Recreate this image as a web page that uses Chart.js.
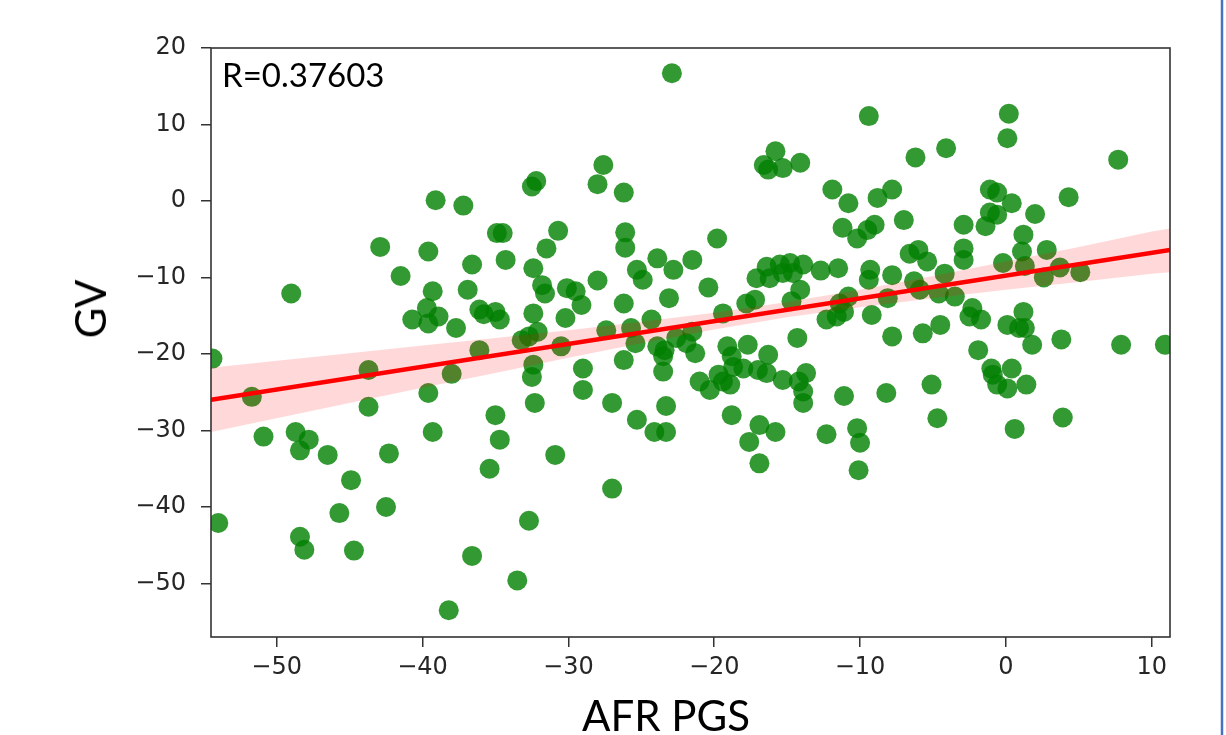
<!DOCTYPE html>
<html>
<head>
<meta charset="utf-8">
<script src="https://cdn.jsdelivr.net/npm/chart.js@4"></script>
<style>
  html, body { margin: 0; padding: 0; background: #fff; }
  #wrap { position: relative; width: 1226px; height: 735px; overflow: hidden; }
  #chart_ctx { position: absolute; left: 0; top: 0; }
  .lbl { position: absolute; font-family: Lato, "Noto Sans", sans-serif; color: #000; line-height: 1; white-space: nowrap; }
  #r_lbl { left: 222px; top: 58px; font-size: 33px; }
  #x_lbl { left: 582px; top: 694px; font-size: 42px; }
  #y_lbl { left: 90px; top: 309px; font-size: 42px; transform: translate(-50%, -50%) rotate(-90deg); }
</style>
</head>
<body>
<div id="wrap">
  <canvas id="chart_ctx" width="1226" height="735"></canvas>
  <div class="lbl" id="r_lbl">R=0.37603</div>
  <div class="lbl" id="x_lbl">AFR PGS</div>
  <div class="lbl" id="y_lbl">GV</div>
</div>
<script>
// scatter values
const pgs = [-39.1,-37.2,-32.2,-32.5,-42.9,-39.6,-34.9,-34.5,-30.7,-31.5,-36.6,-34.3,-32.4,-41.5,-22.9,-9.4,-6.2,-4.1,-27.6,-28.0,
  -26.2,-15.8,-16.6,-16.3,-15.3,-14.1,-11.9,-10.8,-8.8,-7.8,-7.0,-11.2,-10.2,-9.5,-9.0,-26.1,-26.1,-19.8,-23.9,-25.3,
  -22.8,-21.5,-28.0,-6.6,-6.0,-5.4,-9.3,-9.4,-7.8,-11.5,-12.7,-17.1,-16.2,-16.4,-15.5,-14.8,-13.9,-15.3,-14.6,0.2,
  0.1,7.7,-1.1,-0.6,0.4,4.3,2.0,-1.1,-0.6,-1.4,-2.9,1.2,-2.9,-2.9,1.1,2.8,-0.2,1.3,2.6,3.7,
  5.1,-4.2,-24.9,-30.1,-29.5,-29.1,-26.2,-23.1,-20.4,-30.2,-24.3,-30.5,-27.4,-25.7,-25.4,-23.9,-23.4,-23.5,-22.6,-21.9,
  -21.3,-21.5,-19.4,-17.8,-17.2,-14.1,-14.7,-6.3,-5.9,-10.8,-11.4,-11.1,-12.3,-11.6,-9.2,-8.1,-7.8,-5.7,-4.5,-4.6,
  -3.5,-29.0,-26.2,-23.5,-19.1,-18.8,-17.7,-16.3,-14.3,-21.0,-20.3,-19.7,-19.4,-18.9,-18.7,-18.0,-17.0,-16.4,-15.3,-14.2,
  -13.7,-13.9,-13.9,-29.0,-27.0,-23.3,-25.3,-24.1,-23.3,-18.8,-16.9,-15.8,-17.6,-16.9,-12.3,-11.1,-8.2,-10.2,-10.0,-10.1,
  -5.1,-4.7,-30.9,-27.0,-2.3,-2.5,-1.7,1.2,0.1,0.9,1.3,1.8,3.8,7.9,10.9,-1.9,-1.0,-0.9,0.4,-0.6,
  0.1,1.4,0.6,3.9,-54.4,-49.0,-51.7,-50.9,-48.7,-47.8,-48.4,-46.5,-44.9,-42.3,-43.7,-43.7,-39.3,-36.9,-31.8,-31.6,
  -40.7,-39.7,-39.6,-38.9,-37.7,-36.1,-35.8,-35.0,-34.7,-32.4,-33.2,-32.7,-32.1,-36.1,-38.0,-39.6,-39.3,-32.4,-32.5,-32.3,
  -35.0,-34.7,-35.4,-54.0,-48.4,-48.1,-45.7,-44.7,-42.5,-38.2,-36.6,-33.5,-32.7];
const gv = [0.1,-0.6,2.6,1.9,-6.0,-6.6,-4.2,-4.2,-3.9,-6.2,-8.3,-7.7,-8.8,-9.8,16.7,11.1,5.7,6.9,4.7,2.2,
  1.1,6.5,4.7,4.1,4.3,5.0,1.5,-0.3,0.4,1.5,-2.5,-3.5,-4.9,-3.8,-3.1,-4.1,-6.1,-4.9,-7.5,-9.0,
  -9.0,-7.7,-10.4,-6.9,-6.4,-7.9,-9.0,-10.3,-9.7,-8.8,-9.1,-10.1,-10.1,-8.6,-8.3,-8.1,-8.3,-9.4,-9.4,11.4,
  8.2,5.4,1.5,1.1,-0.3,0.5,-1.7,-1.5,-1.8,-3.3,-3.1,-4.4,-6.2,-7.7,-6.6,-6.4,-8.1,-8.5,-10.0,-8.7,
  -9.3,-9.5,-10.3,-11.4,-11.8,-13.6,-13.4,-12.7,-11.3,-15.3,-15.5,-19.0,-16.9,-16.6,-18.6,-19.0,-19.5,-20.3,-17.9,-18.6,
  -19.9,-17.1,-14.7,-13.4,-12.9,-11.6,-13.1,-10.5,-11.6,-12.5,-13.4,-14.5,-15.5,-15.1,-14.9,-12.7,-17.7,-17.3,-16.2,-12.1,
  -12.5,-21.9,-20.8,-22.3,-19.0,-20.3,-18.8,-20.1,-17.9,-23.6,-24.7,-22.7,-23.6,-24.0,-21.7,-21.9,-22.1,-22.5,-23.4,-23.6,
  -22.5,-24.9,-26.4,-24.7,-26.4,-26.8,-28.6,-30.2,-30.2,-28.0,-29.3,-30.2,-31.5,-34.3,-30.5,-25.5,-25.1,-29.7,-31.6,-35.2,
  -24.0,-28.4,-33.2,-37.6,-14.0,-15.1,-15.5,-14.5,-16.2,-16.6,-16.6,-18.8,-18.1,-18.8,-18.8,-19.5,-21.9,-22.7,-21.9,-24.0,
  -24.5,-24.0,-29.8,-28.3,-20.6,-12.1,-25.6,-30.8,-30.2,-31.2,-32.6,-33.2,-36.5,-33.0,-22.1,-26.9,-11.8,-11.6,-11.0,-12.1,
  -15.5,-14.0,-16.0,-15.1,-16.6,-14.2,-14.8,-14.5,-15.5,-14.7,-18.2,-17.7,-17.1,-19.5,-22.6,-25.1,-30.2,-21.4,-23.0,-26.4,
  -28.0,-31.2,-35.0,-42.1,-43.9,-45.6,-40.8,-45.7,-40.0,-53.5,-46.4,-49.6,-41.8];

// regression line and 95% band
const fitX = [-54.5, 11.25];
const fitY = [-26.0, -6.4];
const bandX = [-54.5,-50,-45,-40,-35,-30,-25,-20,-15,-10,-5,0,5,10,11.25];
const bandUpper = [-21.8,-20.9,-19.9,-18.9,-17.9,-16.9,-15.8,-14.6,-13.2,-11.6,-9.8,-7.9,-6.0,-4.0,-3.6];
const bandLower = [-30.2,-28.4,-26.4,-24.4,-22.5,-20.5,-18.6,-16.8,-15.2,-13.9,-12.7,-11.6,-10.6,-9.5,-9.3];

const xTicks = [-50, -40, -30, -20, -10, 0, 10];
const yTicks = [-50, -40, -30, -20, -10, 0, 10, 20];

function pts(xs, ys) {
    return xs.map(function (x, i) { return {x: x, y: ys[i]}; });
}
function fmt(v) {
    return v < 0 ? '\u2212' + Math.abs(v) : String(v);
}

const tickFont = {family: 'DejaVu Sans', size: 24};
const gridSet = {drawOnChartArea: false, drawTicks: true, tickLength: 10, color: '#333', lineWidth: 1.5};

// frame round the plot + the slide's blue edge
const framePlugin = {
    id: 'frame',
    afterDraw: function (chart) {
        const a = chart.chartArea;
        const c = chart.ctx;
        c.save();
        c.strokeStyle = '#333';
        c.lineWidth = 1.6;
        c.strokeRect(a.left, a.top, a.right - a.left, a.bottom - a.top);
        c.strokeStyle = '#4472c4';
        c.lineWidth = 2.5;
        c.beginPath();
        c.moveTo(1222, 0);
        c.lineTo(1222, chart.height);
        c.stroke();
        c.restore();
    }
};

var ctx = document.getElementById('chart_ctx');
var myChart = new Chart(ctx, {
    type: 'scatter',
    data: {
        datasets: [{
            data: pts(pgs, gv),
            backgroundColor: 'rgba(0,128,0,0.8)',
            borderWidth: 0,
            pointRadius: 10,
            clip: 0,
            order: 3
        }, {
            type: 'line',
            data: pts(bandX, bandUpper),
            borderWidth: 0,
            pointRadius: 0,
            fill: '+1',
            backgroundColor: 'rgba(255,0,0,0.15)',
            clip: 0,
            order: 2
        }, {
            type: 'line',
            data: pts(bandX, bandLower),
            borderWidth: 0,
            pointRadius: 0,
            fill: false,
            clip: 0,
            order: 2
        }, {
            type: 'line',
            data: pts(fitX, fitY),
            borderColor: '#ff0000',
            borderWidth: 4.5,
            pointRadius: 0,
            fill: false,
            clip: 0,
            order: 1
        }]
    },
    options: {
        responsive: false,
        animation: false,
        events: [],
        layout: {padding: {left: 0, top: 48, right: 56, bottom: 0}},
        plugins: {legend: {display: false}, tooltip: {enabled: false}},
        scales: {
            x: {
                type: 'linear',
                min: -54.5,
                max: 11.25,
                afterBuildTicks: function (s) { s.ticks = xTicks.map(function (v) { return {value: v}; }); },
                afterFit: function (s) { s.height = 98; },
                ticks: {font: tickFont, color: '#262626', padding: 6, maxRotation: 0, callback: fmt},
                grid: gridSet,
                border: {display: false}
            },
            y: {
                min: -57,
                max: 20,
                afterBuildTicks: function (s) { s.ticks = yTicks.map(function (v) { return {value: v}; }); },
                afterFit: function (s) { s.width = 211; },
                ticks: {font: tickFont, color: '#262626', padding: 15, callback: fmt},
                grid: gridSet,
                border: {display: false}
            }
        }
    },
    plugins: [framePlugin]
});
</script>
</body>
</html>
